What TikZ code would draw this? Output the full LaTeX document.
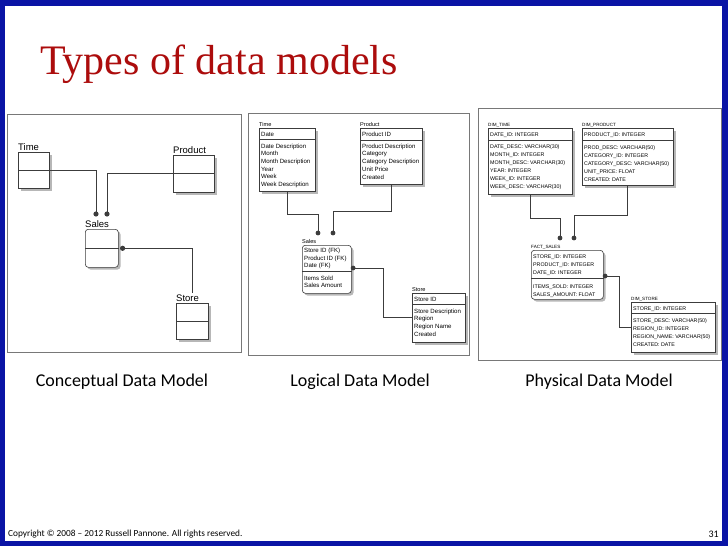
\documentclass[tikz,border=0pt]{standalone}
\usepackage{fontspec}
\setmainfont{Liberation Serif}
\newfontfamily\calibri{Carlito}
\newfontfamily\tahoma{Liberation Sans}
\usepackage{tikz}
\usetikzlibrary{shadows}
\usetikzlibrary{calc}

\definecolor{slideblue}{RGB}{10,20,165}
\definecolor{titlered}{RGB}{172,12,12}
\definecolor{panelgray}{RGB}{120,120,120}
\definecolor{linkgray}{RGB}{60,60,60}

\begin{document}
\begin{tikzpicture}[x=1pt,y=-1pt,
	panel/.style={draw=panelgray,line width=0.9pt},
	entity/.style={draw=linkgray,fill=white,line width=0.6pt,anchor=north west,inner sep=0pt,
		drop shadow={shadow xshift=2.2pt,shadow yshift=-2.2pt,fill=gray!80,opacity=0.7}},
	factbox/.style={entity,rounded corners=3pt},
	link/.style={draw=linkgray,line width=0.8pt},
	clabel/.style={anchor=base west,inner sep=0pt,font=\tahoma\fontsize{9.5}{10}\selectfont},
	llabel/.style={anchor=base west,inner sep=0pt,font=\tahoma\fontsize{5.6}{6}\selectfont},
	ltext/.style={anchor=base west,inner sep=0pt,font=\tahoma\fontsize{6.1}{7}\selectfont},
	plabel/.style={anchor=base west,inner sep=0pt,font=\tahoma\fontsize{4.6}{5}\selectfont},
	ptext/.style={anchor=base west,inner sep=0pt,font=\tahoma\fontsize{5.3}{6}\selectfont},
	caption/.style={anchor=base,inner sep=0pt,font=\calibri\fontsize{18}{20}\selectfont}]
\useasboundingbox (0,0) rectangle (728,546);
\fill[slideblue] (0,0) rectangle (728,546);
\fill[white] (5,6) rectangle (722,541);

\node[anchor=base west,inner sep=0pt,text=titlered,font=\fontsize{42}{45}\selectfont] (title) at (40,74) {Types of data models};

\draw[panel] (7,114) rectangle (241,352);
\draw[panel] (248,113) rectangle (469,355);
\draw[panel] (478,108) rectangle (721,360);

% conceptual
\node[entity,minimum width=31pt,minimum height=36pt] (ctime) at (18,152) {};
\node[entity,minimum width=41pt,minimum height=37pt] (cprod) at (173,155) {};
\node[factbox,minimum width=33pt,minimum height=38pt] (csales) at (85,229) {};
\node[entity,minimum width=32pt,minimum height=36pt] (cstore) at (176,303) {};
\foreach \n/\t in {ctime/Time,cprod/Product,csales/Sales,cstore/Store} {
	\node[clabel] (\n-name) at ([yshift=2pt]\n.north west) {\t};
	\draw[link] (\n.west) -- (\n.east);
}
\coordinate (ctdot) at (96,214);
\coordinate (cpdot) at (107,214);
\coordinate (csdot) at ([xshift=4pt]csales.east);
\draw[link] (ctime.east) -| (ctdot);
\draw[link] (cprod.west) -| (cpdot);
\draw[link] (csdot) -| ([yshift=10pt]cstore.north);
\foreach \d in {ctdot,cpdot,csdot}
	\fill[linkgray] (\d) circle (2.6pt);

% logical
\node[entity,minimum width=56pt,minimum height=63pt] (ltime) at (259,128) {};
\node[entity,minimum width=62pt,minimum height=56pt] (lprod) at (360,128) {};
\node[factbox,minimum width=49pt,minimum height=48pt] (lsales) at (302,245) {};
\node[entity,minimum width=53pt,minimum height=49pt] (lstore) at (412,293) {};
\foreach \n/\t/\h in {ltime/Time/11,lprod/Product/12,lsales/Sales/26,lstore/Store/11} {
	\node[llabel] (\n-name) at ([yshift=1.5pt]\n.north west) {\t};
	\draw[link,line width=0.5pt] ([yshift=-\h pt]\n.north west) -- ([yshift=-\h pt]\n.north east);
}
\node[ltext] (lt0) at (261,136) {Date};
\foreach \t [count=\i] in {Date Description,Month,Month Description,Year,Week,Week Description}
	\node[ltext] (lt\i) at (261,{140.3+7.7*\i}) {\t};
\node[ltext] (lp0) at (362,136.5) {Product ID};
\foreach \t [count=\i] in {Product Description,Category,Category Description,Unit Price,Created}
	\node[ltext] (lp\i) at (362,{140.5+7.7*\i}) {\t};
\foreach \t [count=\i] in {Store ID (FK),Product ID (FK),Date (FK)}
	\node[ltext] (ls\i) at (304,{244.7+7.7*\i}) {\t};
\foreach \t [count=\i] in {Items Sold,Sales Amount}
	\node[ltext] (lm\i) at (304,{272.5+7.7*\i}) {\t};
\node[ltext] (lr0) at (414,301) {Store ID};
\foreach \t [count=\i] in {Store Description,Region,Region Name,Created}
	\node[ltext] (lr\i) at (414,{305.5+7.7*\i}) {\t};
\coordinate (ltdot) at (318,233);
\coordinate (lpdot) at (333,233);
\coordinate (lsdot) at ([shift={(1.5pt,-23pt)}]lsales.north east);
\draw[link] (ltime.south) |- ([yshift=19pt]ltdot) -- (ltdot);
\draw[link] (lprod.south) |- ([yshift=22pt]lpdot) -- (lpdot);
\draw[link] (lsdot) -- ++(30,0) |- ([yshift=-24pt]lstore.north west);
\foreach \d in {ltdot,lpdot,lsdot}
	\fill[linkgray] (\d) circle (2.4pt);

% physical
\node[entity,minimum width=84pt,minimum height=66pt] (ptime) at (488,128) {};
\node[entity,minimum width=91pt,minimum height=57pt] (pprod) at (582,128) {};
\node[factbox,minimum width=72pt,minimum height=49pt] (psales) at (531,250) {};
\node[entity,minimum width=84pt,minimum height=50pt] (pstore) at (631,302) {};
\foreach \n/\t/\h in {ptime/DIM\_TIME/12,pprod/DIM\_PRODUCT/12,psales/FACT\_SALES/28,pstore/DIM\_STORE/11} {
	\node[plabel] (\n-name) at ([yshift=1.5pt]\n.north west) {\t};
	\draw[link,line width=0.5pt] ([yshift=-\h pt]\n.north west) -- ([yshift=-\h pt]\n.north east);
}
\node[ptext] (pt0) at (490,136) {DATE\_ID: INTEGER};
\foreach \t [count=\i] in {DATE\_DESC: VARCHAR(30),MONTH\_ID: INTEGER,MONTH\_DESC: VARCHAR(30),YEAR: INTEGER,WEEK\_ID: INTEGER,WEEK\_DESC: VARCHAR(30)}
	\node[ptext] (pt\i) at (490,{140+8*\i}) {\t};
\node[ptext] (pp0) at (584,136) {PRODUCT\_ID: INTEGER};
\foreach \t [count=\i] in {PROD\_DESC: VARCHAR(50),CATEGORY\_ID: INTEGER,CATEGORY\_DESC: VARCHAR(50),UNIT\_PRICE: FLOAT,CREATED: DATE}
	\node[ptext] (pp\i) at (584,{141+8*\i}) {\t};
\foreach \t [count=\i] in {STORE\_ID: INTEGER,PRODUCT\_ID: INTEGER,DATE\_ID: INTEGER}
	\node[ptext] (ps\i) at (533,{250+8*\i}) {\t};
\foreach \t [count=\i] in {ITEMS\_SOLD: INTEGER,SALES\_AMOUNT: FLOAT}
	\node[ptext] (pm\i) at (533,{280+8*\i}) {\t};
\node[ptext] (pr0) at (633,310) {STORE\_ID: INTEGER};
\foreach \t [count=\i] in {STORE\_DESC: VARCHAR(50),REGION\_ID: INTEGER,REGION\_NAME: VARCHAR(50),CREATED: DATE}
	\node[ptext] (pr\i) at (633,{314+8*\i}) {\t};
\coordinate (ptdot) at (560,238);
\coordinate (ppdot) at (574,238);
\coordinate (psdot) at ([shift={(1.5pt,-26pt)}]psales.north east);
\draw[link] (ptime.south) |- ([yshift=20pt]ptdot) -- (ptdot);
\draw[link] (pprod.south) |- ([yshift=23pt]ppdot) -- (ppdot);
\draw[link] (psdot) -- ++(14,0) |- ([yshift=-25pt]pstore.north west);
\foreach \d in {ptdot,ppdot,psdot}
	\fill[linkgray] (\d) circle (2.4pt);

\node[caption] (ccap) at (122,386) {Conceptual Data Model};
\node[caption] (lcap) at (360,386) {Logical Data Model};
\node[caption] (pcap) at (599,386) {Physical Data Model};

\node[anchor=base west,inner sep=0pt,font=\calibri\fontsize{9.3}{11}\selectfont] (copy) at (8,536) {Copyright © 2008 – 2012 Russell Pannone. All rights reserved.};
\node[anchor=base east,inner sep=0pt,font=\calibri\fontsize{10}{12}\selectfont] (pageno) at (719,537) {31};
\end{tikzpicture}
\end{document}
